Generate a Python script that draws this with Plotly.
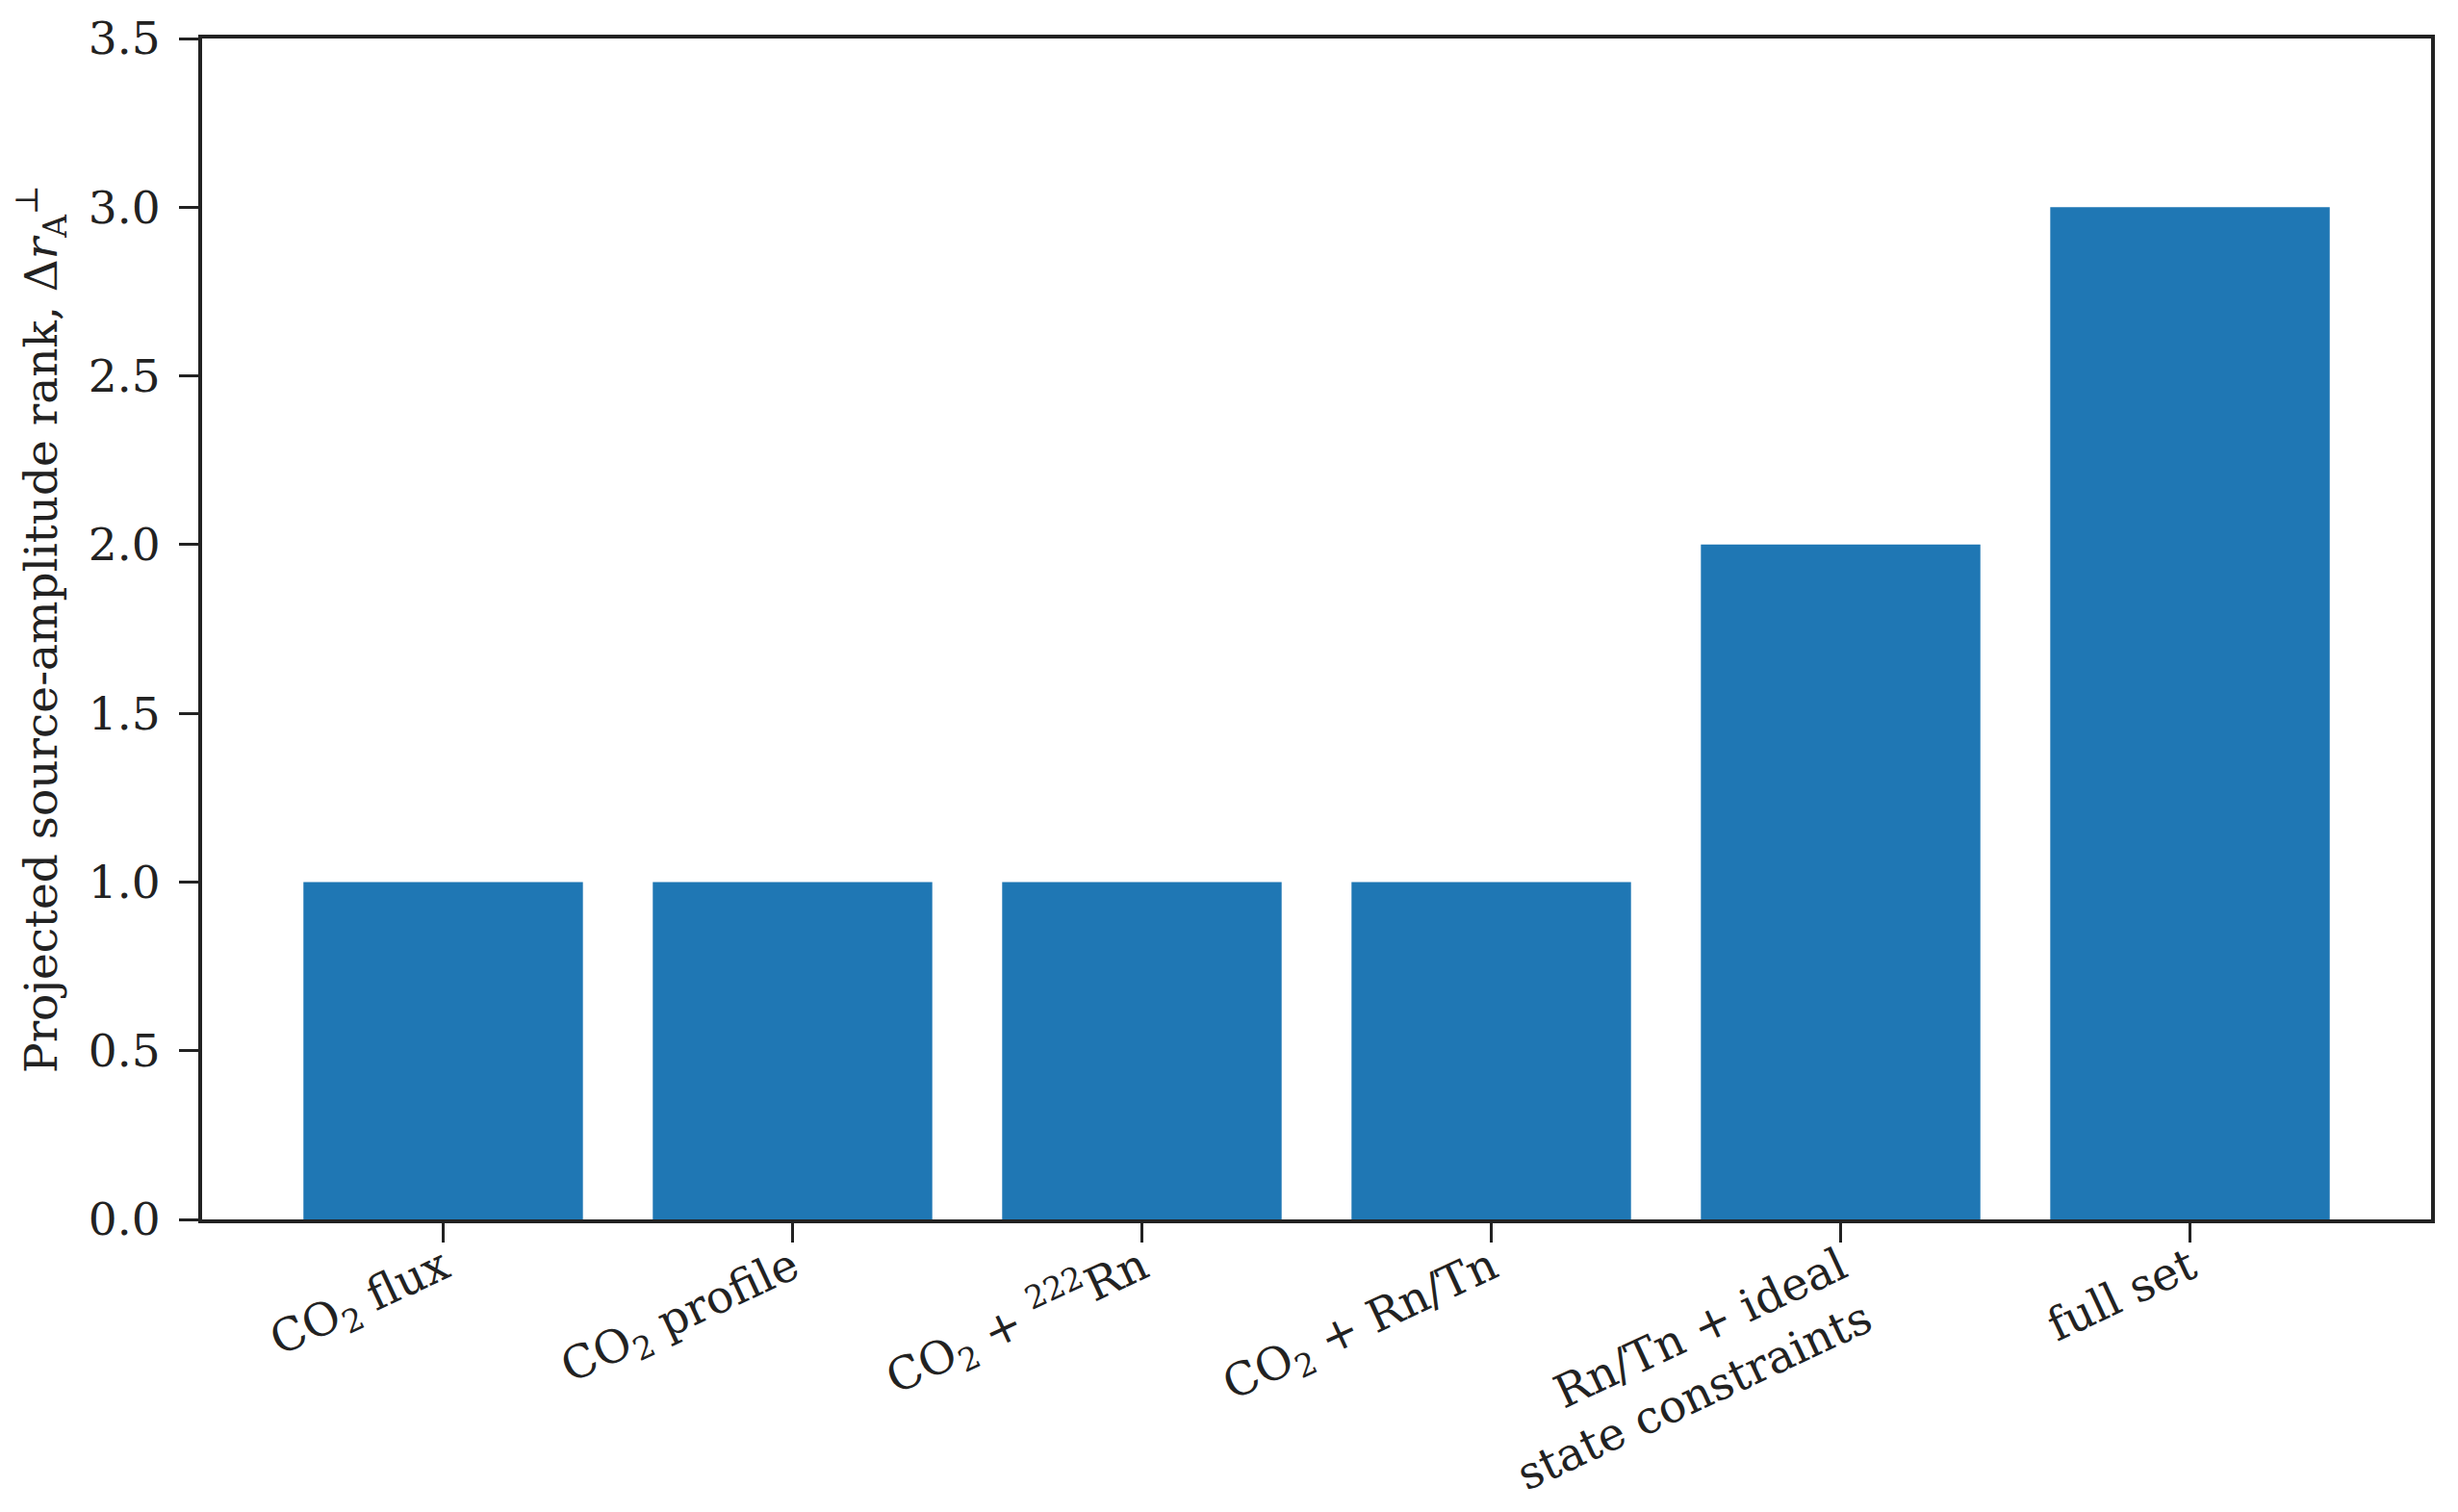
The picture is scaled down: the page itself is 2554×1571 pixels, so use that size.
import plotly.graph_objects as go

# category labels and projected rank values
categories = [
    "CO<sub>2</sub> flux",
    "CO<sub>2</sub> profile",
    "CO<sub>2</sub> + <sup>222</sup>Rn",
    "CO<sub>2</sub> + Rn/Tn",
    "Rn/Tn + ideal<br>state constraints",
    "full set",
]
rank_values = [1, 1, 1, 1, 2, 3]
y_ticks = [0.0, 0.5, 1.0, 1.5, 2.0, 2.5, 3.0, 3.5]

font_family = "DejaVu Serif"
ink = "#222222"
fsize = 47

fig = go.Figure(
    go.Bar(
        x=list(range(len(categories))),
        y=rank_values,
        width=0.8,
        marker=dict(color="#1f77b4", line=dict(width=0)),
    )
)

# page body has an 8px margin, so the figure is shrunk to fit the window
fig.update_layout(
    width=2538,
    height=1555,
    margin=dict(l=202, r=20, t=32, b=296),
    plot_bgcolor="white",
    paper_bgcolor="white",
    font=dict(family=font_family, size=fsize, color=ink),
    showlegend=False,
)

fig.update_xaxes(
    range=[-0.69, 5.69],
    tickmode="array",
    tickvals=list(range(len(categories))),
    ticktext=categories,
    tickangle=-25,
    ticks="outside",
    ticklen=20,
    tickwidth=3,
    tickcolor=ink,
    showline=True,
    linewidth=4,
    linecolor=ink,
    mirror=True,
    showgrid=False,
    zeroline=False,
    automargin=False,
    ticklabelstandoff=-20,
    tickfont=dict(family=font_family, size=fsize, color=ink),
)

fig.update_yaxes(
    range=[0, 3.5],
    tickmode="array",
    tickvals=y_ticks,
    ticktext=[f"{v:.1f}" for v in y_ticks],
    ticks="outside",
    ticklen=20,
    tickwidth=3,
    tickcolor=ink,
    showline=True,
    linewidth=4,
    linecolor=ink,
    mirror=True,
    showgrid=False,
    zeroline=False,
    automargin=False,
    ticklabelstandoff=10,
    tickfont=dict(family=font_family, size=fsize, color=ink),
    title=dict(
        text="Projected source-amplitude rank, Δ<i>r</i><sub>A</sub><sup>⊥</sup>",
        font=dict(family=font_family, size=fsize, color=ink),
        standoff=32,
    ),
)

fig.write_html("out.html")
